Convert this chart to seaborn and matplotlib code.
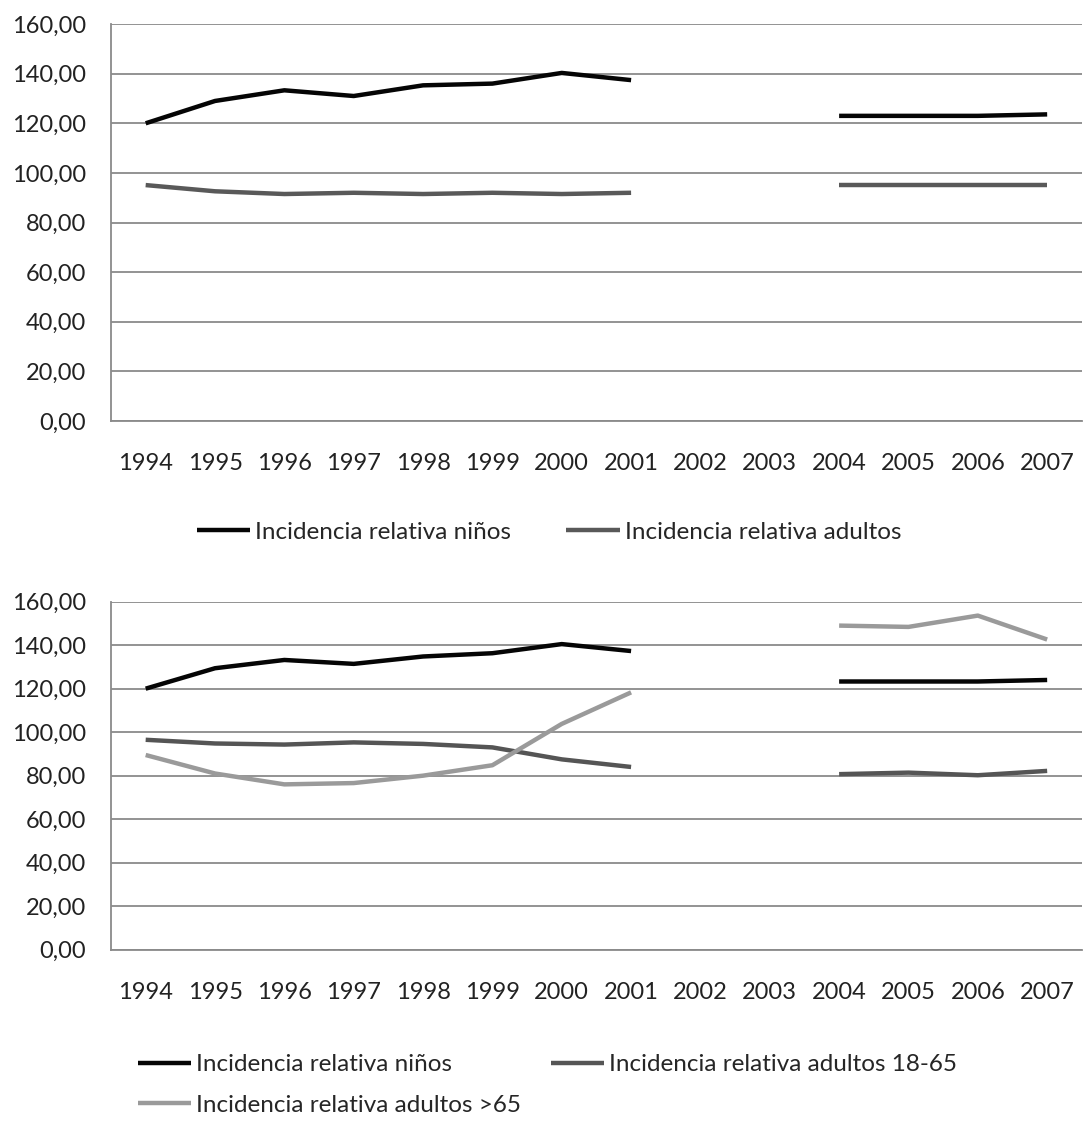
import numpy as np
import pandas as pd
import matplotlib
matplotlib.use("Agg")
import matplotlib.pyplot as plt
import seaborn as sns

# data (2002 and 2003 have no values)
years = [1994, 1995, 1996, 1997, 1998, 1999, 2000, 2001, 2002, 2003, 2004, 2005, 2006, 2007]
ninos_top = [120.0, 129.0, 133.3, 131.0, 135.3, 136.0, 140.3, 137.4, np.nan, np.nan, 123.0, 123.0, 123.0, 123.6]
adultos_top = [95.1, 92.6, 91.5, 92.0, 91.5, 92.0, 91.5, 92.0, np.nan, np.nan, 95.0, 95.0, 95.0, 95.0]

ninos_bot = [120.0, 129.4, 133.2, 131.4, 134.8, 136.3, 140.5, 137.3, np.nan, np.nan, 123.3, 123.3, 123.3, 124.0]
adultos_1865 = [96.5, 94.8, 94.3, 95.3, 94.6, 93.0, 87.5, 84.0, np.nan, np.nan, 80.7, 81.4, 80.2, 82.2]
adultos_65 = [89.5, 81.0, 76.0, 76.6, 80.0, 84.8, 103.8, 118.3, np.nan, np.nan, 149.0, 148.4, 153.6, 142.6]

labels_top = ["Incidencia relativa niños", "Incidencia relativa adultos"]
labels_bot = ["Incidencia relativa niños", "Incidencia relativa adultos 18-65",
              "Incidencia relativa adultos >65"]
yticks = [0, 20, 40, 60, 80, 100, 120, 140, 160]

sns.set_style("white")
plt.rcParams['font.family'] = ['Lato', 'DejaVu Sans']
FS = 17
LFS = 17.5
GRID = "#8a8a8a"
W, H = 1084, 1124


def draw_series(ax, values, color, label):
    df = pd.DataFrame({"pos": np.arange(len(years)), "val": values})
    # split at missing values so the line breaks over 2002-2003
    df["seg"] = df["val"].isna().cumsum()
    df = df.dropna()
    first = True
    for _, part in df.groupby("seg"):
        sns.lineplot(data=part, x="pos", y="val", ax=ax, color=color, linewidth=3.2,
                     label=label if first else None, legend=False,
                     solid_capstyle="butt")
        first = False


def style_axes(ax):
    n = len(years)
    ax.set_xlim(-0.5, n - 0.5)
    ax.set_ylim(0, 160)
    ax.set_yticks(yticks)
    ax.set_yticklabels([f"{v:.2f}".replace(".", ",") for v in yticks], fontsize=FS, color="#222222")
    ax.set_xticks(np.arange(-0.5, n, 1.0))
    ax.set_xticklabels([])
    ax.set_xticks(np.arange(n), minor=True)
    ax.set_xticklabels([str(y) for y in years], minor=True, fontsize=FS, color="#222222")
    ax.tick_params(axis="x", which="major", length=7, width=1.2, color=GRID, direction="out")
    ax.tick_params(axis="x", which="minor", length=0, pad=23)
    ax.tick_params(axis="y", length=7, width=1.2, color=GRID, direction="out", pad=11)
    ax.yaxis.grid(True, color=GRID, linewidth=1.3)
    ax.set_axisbelow(True)
    for side in ["top", "right"]:
        ax.spines[side].set_visible(False)
    for side in ["left", "bottom"]:
        ax.spines[side].set_color(GRID)
        ax.spines[side].set_linewidth(1.3)
    ax.set_xlabel("")
    ax.set_ylabel("")


fig = plt.figure(figsize=(10.84, 11.24), dpi=100)
ax1 = fig.add_axes([0.1024, 0.6254, 0.8956, 0.3532])
ax2 = fig.add_axes([0.1024, 0.1551, 0.8956, 0.3096])

draw_series(ax1, ninos_top, "#050505", labels_top[0])
draw_series(ax1, adultos_top, "#595959", labels_top[1])
style_axes(ax1)
h1, l1 = ax1.get_legend_handles_labels()
fig.legend(h1, l1, loc="center left", bbox_to_anchor=(197 / W, 1 - 532 / H), ncol=2,
           frameon=False, fontsize=LFS, handlelength=2.2, handletextpad=0.2,
           columnspacing=2.26, borderpad=0, borderaxespad=0)

draw_series(ax2, ninos_bot, "#050505", labels_bot[0])
draw_series(ax2, adultos_1865, "#555555", labels_bot[1])
draw_series(ax2, adultos_65, "#9a9a9a", labels_bot[2])
style_axes(ax2)
h2, l2 = ax2.get_legend_handles_labels()
order = [0, 2, 1]  # legend fills column-wise: row 1 = niños, 18-65; row 2 = >65
fig.legend([h2[i] for i in order], [l2[i] for i in order], loc="center left",
           bbox_to_anchor=(138 / W, 1 - 1085 / H), ncol=2, frameon=False, fontsize=LFS,
           handlelength=2.2, handletextpad=0.2, columnspacing=1.2, labelspacing=0.8,
           borderpad=0, borderaxespad=0)

fig.savefig("out.png", dpi=100, facecolor="white")
